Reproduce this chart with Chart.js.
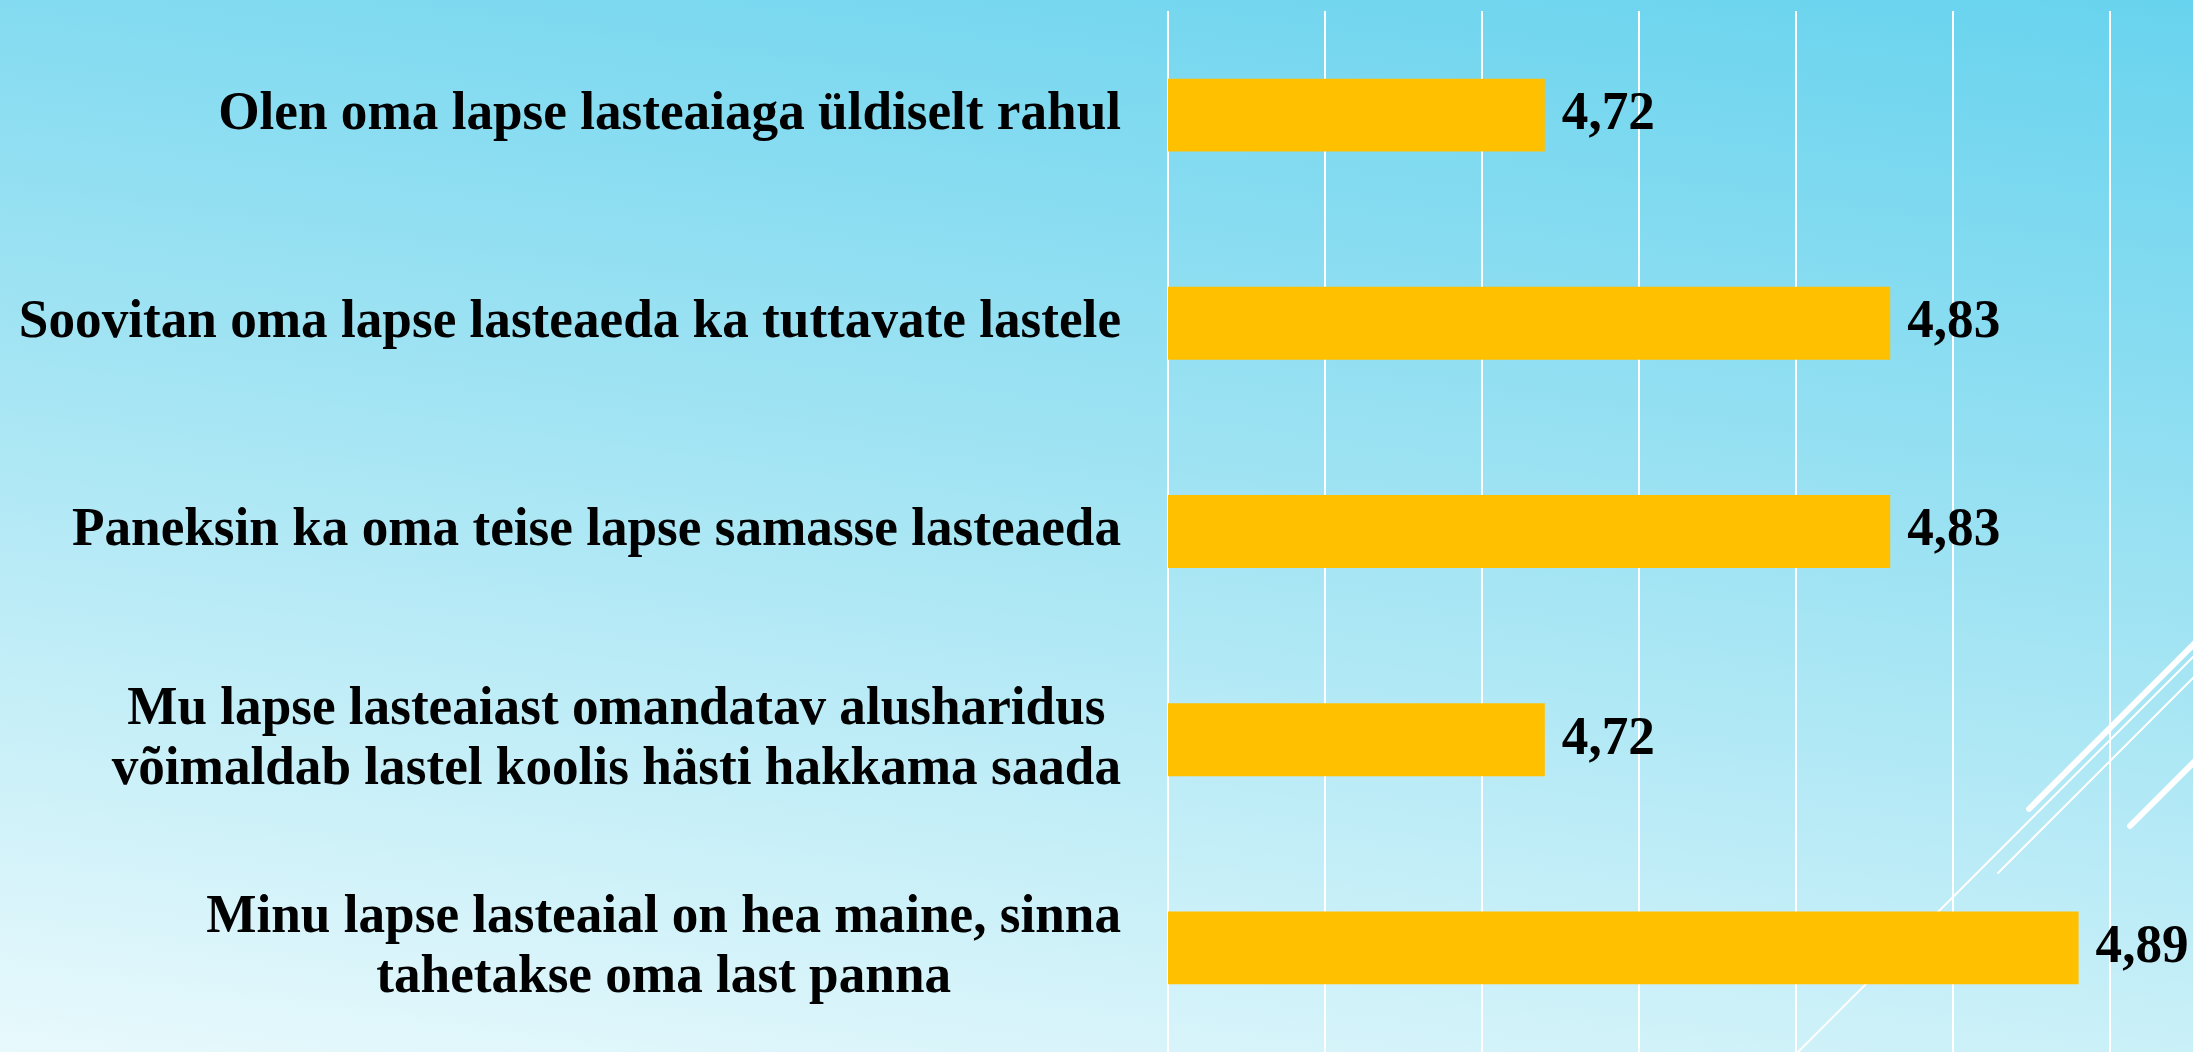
<!DOCTYPE html>
<html lang="et">
<head>
    <meta charset="UTF-8">
    <title>Lasteaia rahulolu</title>
    <style>
        html, body { margin: 0; padding: 0; overflow: hidden; }
        body {
            width: 2193px;
            height: 1052px;
            position: relative;
            background: linear-gradient(188deg, #68d3ee 0%, #9fe3f3 45%, #e8f9fc 100%);
        }
        svg.deco { position: absolute; left: 0; top: 0; }
        #chart { position: absolute; left: 0; top: 0; display: block; }
    </style>
</head>
<body>

    <!-- slide decoration (thin white strokes in the corner) -->
    <svg class="deco" width="2193" height="1052">
        <g stroke="#ffffff" fill="none" stroke-linecap="round">
            <line x1="2029" y1="809" x2="2320" y2="518" stroke-width="6"></line>
            <line x1="1770" y1="1080" x2="2320" y2="530" stroke-width="2"></line>
            <line x1="1998" y1="873" x2="2320" y2="551" stroke-width="2"></line>
            <line x1="2130" y1="826" x2="2320" y2="636" stroke-width="6"></line>
        </g>
    </svg>

    <canvas id="chart" width="2440" height="1052"></canvas>

    <script src="https://cdn.jsdelivr.net/npm/chart.js@4.4.0/dist/chart.umd.min.js"></script>

    <script>
        // data
        const categories = [
            ['Olen oma lapse lasteaiaga üldiselt rahul'],
            ['Soovitan oma lapse lasteaeda ka tuttavate lastele'],
            ['Paneksin ka oma teise lapse samasse lasteaeda'],
            ['Mu lapse lasteaiast omandatav alusharidus', 'võimaldab lastel koolis hästi hakkama saada'],
            ['Minu lapse lasteaial on hea maine, sinna', 'tahetakse oma last panna']
        ];
        const scores = [4.72, 4.83, 4.83, 4.72, 4.89];
        const axisMin = 4.6;
        const axisMax = 5.0;
        const axisStep = 0.05;

        const FONT = '"Liberation Serif", "Times New Roman", serif';
        const SQUEEZE = 0.985;   // slight horizontal condensing of the text

        function fmt(v) {
            return v.toFixed(2).replace('.', ',');
        }

        function squeezedText(ctx, text, x, y) {
            ctx.save();
            ctx.translate(x, y);
            ctx.scale(SQUEEZE, 1);
            ctx.fillText(text, 0, 0);
            ctx.restore();
        }

        // category labels: block right aligned, lines centered inside the block
        const categoryLabels = {
            id: 'categoryLabels',
            afterDraw(chart) {
                const ctx = chart.ctx;
                const yScale = chart.scales.y;
                const right = 1121;
                const lineH = 60;
                ctx.save();
                ctx.font = 'bold 54px ' + FONT;
                ctx.fillStyle = '#000000';
                ctx.textAlign = 'center';
                ctx.textBaseline = 'middle';
                chart.data.labels.forEach((lines, i) => {
                    const yc = yScale.getPixelForTick(i);
                    const w = Math.max(...lines.map(l => ctx.measureText(l).width)) * SQUEEZE;
                    const xc = right - w / 2;
                    lines.forEach((line, j) => {
                        const y = yc + (j - (lines.length - 1) / 2) * lineH;
                        squeezedText(ctx, line, xc, y);
                    });
                });
                ctx.restore();
            }
        };

        // value labels at the end of each bar
        const valueLabels = {
            id: 'valueLabels',
            afterDatasetsDraw(chart) {
                const ctx = chart.ctx;
                const meta = chart.getDatasetMeta(0);
                ctx.save();
                ctx.font = 'bold 54px ' + FONT;
                ctx.fillStyle = '#000000';
                ctx.textAlign = 'left';
                ctx.textBaseline = 'middle';
                meta.data.forEach((bar, i) => {
                    squeezedText(ctx, fmt(scores[i]), bar.x + 17, bar.y);
                });
                ctx.restore();
            }
        };

        new Chart(document.getElementById('chart'), {
            type: 'bar',
            data: {
                labels: categories,
                datasets: [{
                    data: scores,
                    backgroundColor: '#ffc000',
                    borderWidth: 0,
                    barPercentage: 0.35,
                    categoryPercentage: 1
                }]
            },
            options: {
                indexAxis: 'y',
                responsive: false,
                animation: false,
                layout: { padding: { top: 11, right: 16, left: 0, bottom: 0 } },
                plugins: {
                    legend: { display: false },
                    tooltip: { enabled: false }
                },
                scales: {
                    x: {
                        min: axisMin,
                        max: axisMax,
                        ticks: { display: false, stepSize: axisStep },
                        grid: { color: '#ffffff', lineWidth: 2, drawTicks: false, tickLength: 0 },
                        border: { display: false },
                        afterFit(scale) { scale.height = 0; }
                    },
                    y: {
                        ticks: { display: false },
                        grid: { display: false },
                        border: { display: false },
                        afterFit(scale) { scale.width = 1168; }
                    }
                }
            },
            plugins: [categoryLabels, valueLabels]
        });
    </script>

</body>
</html>
